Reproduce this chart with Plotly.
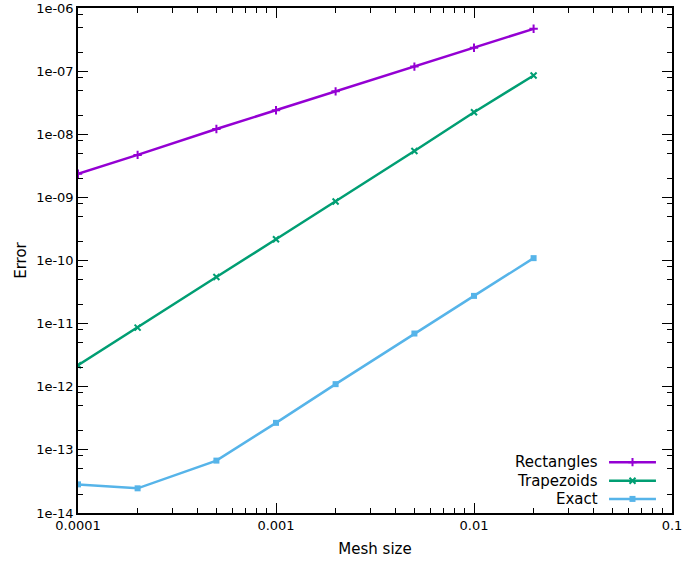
import plotly.graph_objects as go

# ---- data ----
mesh = [0.0001, 0.0002, 0.0005, 0.001, 0.002, 0.005, 0.01, 0.02]
rectangles = [2.37e-9, 4.71e-9, 1.21e-8, 2.40e-8, 4.78e-8, 1.18e-7, 2.35e-7, 4.68e-7]
trapezoids = [2.19e-12, 8.65e-12, 5.48e-11, 2.17e-10, 8.6e-10, 5.44e-9, 2.23e-8, 8.53e-8]
exact = [2.84e-14, 2.46e-14, 6.76e-14, 2.68e-13, 1.10e-12, 6.97e-12, 2.75e-11, 1.09e-10]

series_names = ["Rectangles", "Trapezoids", "Exact"]
series_colors = ["#9400D3", "#009E73", "#56B4E9"]
series_symbols = ["cross-thin", "x-thin", "square"]

x_major = [1e-4, 1e-3, 1e-2, 1e-1]
x_major_text = ["0.0001", "0.001", "0.01", "0.1"]
y_major = [10.0 ** e for e in range(-14, -5)]
y_major_text = ["1e-%02d" % (-e) for e in range(-14, -5)]

x_minor = [m * d for d in [1e-4, 1e-3, 1e-2] for m in range(2, 10)]
y_minor = [m * 10.0 ** e for e in range(-14, -6) for m in (2, 5, 8)]

FONT = "DejaVu Sans"
EPS = 1e-5


def marker_for(sym, col):
    if sym == "square":
        return dict(symbol=sym, size=6, color=col, line=dict(color=col, width=0))
    return dict(symbol=sym, size=6, color=col, line=dict(color=col, width=2))


fig = go.Figure()
for name, ys, col, sym in zip(series_names, [rectangles, trapezoids, exact],
                              series_colors, series_symbols):
    fig.add_trace(go.Scatter(
        x=mesh, y=ys, name=name, mode="lines+markers",
        line=dict(color=col, width=2.5),
        marker=marker_for(sym, col),
        showlegend=False))

# custom gnuplot-style key (text right, sample on the right)
key_text_x = 0.8788
key_line = (0.894, 0.973)
key_rows = [0.1007, 0.0639, 0.0279]
for name, col, sym, ky in zip(series_names, series_colors, series_symbols, key_rows):
    fig.add_trace(go.Scatter(
        x=list(key_line), y=[ky, ky], mode="lines",
        line=dict(color=col, width=2.5), xaxis="x2", yaxis="y2",
        showlegend=False, hoverinfo="skip"))
    fig.add_trace(go.Scatter(
        x=[sum(key_line) / 2], y=[ky], mode="markers",
        marker=marker_for(sym, col),
        xaxis="x2", yaxis="y2", showlegend=False, hoverinfo="skip"))
    fig.add_annotation(x=key_text_x, y=ky, xref="paper", yref="paper",
                       text=name, showarrow=False, xanchor="right",
                       yanchor="middle", font=dict(family=FONT, size=15, color="black"))

axis_common = dict(
    type="log", showgrid=False, zeroline=False,
    showline=True, linecolor="black", linewidth=1.5, mirror="ticks",
    ticks="inside", ticklen=10, tickwidth=1, tickcolor="black",
    tickfont=dict(family=FONT, size=13, color="black"),
    ticklabeloverflow="allow", automargin=False,
)

fig.update_layout(
    width=682, height=563,
    margin=dict(l=78, r=10, t=8, b=50),
    paper_bgcolor="white", plot_bgcolor="white",
    font=dict(family=FONT, size=13, color="black"),
    xaxis=dict(**axis_common, range=[-4 - EPS, -1 + EPS], tickmode="array",
               tickvals=x_major, ticktext=x_major_text,
               minor=dict(tickmode="array", tickvals=x_minor, ticks="inside",
                          ticklen=5, tickwidth=1, tickcolor="black"),
               title=dict(text="Mesh size", font=dict(family=FONT, size=15), standoff=11)),
    yaxis=dict(**axis_common, range=[-14 - EPS, -6 + EPS], tickmode="array",
               tickvals=y_major, ticktext=y_major_text,
               minor=dict(tickmode="array", tickvals=y_minor, ticks="inside",
                          ticklen=5, tickwidth=1, tickcolor="black"),
               title=dict(text="Error", font=dict(family=FONT, size=15), standoff=6)),
    xaxis2=dict(domain=[0, 1], range=[0, 1], visible=False, anchor="y2",
                overlaying="x"),
    yaxis2=dict(domain=[0, 1], range=[0, 1], visible=False, anchor="x2",
                overlaying="y"),
    showlegend=False,
)

fig.write_html("out.html")
